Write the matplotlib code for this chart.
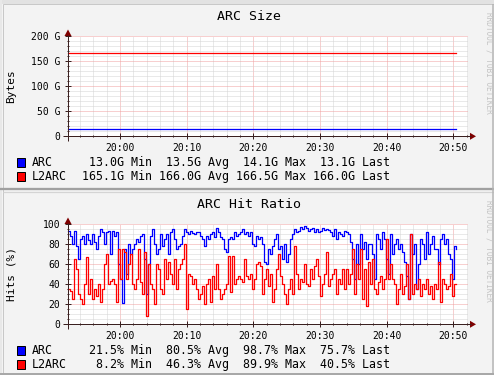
import numpy as np
import matplotlib
matplotlib.use('Agg')
import matplotlib.pyplot as plt
from matplotlib.lines import Line2D
from matplotlib.patches import Polygon, Rectangle

# time axis: minutes of the day, one sample every 18 s starting 19:52:12
t_start = 19 * 60 + 52.2
t_step = 0.3
hour_ticks = ['20:00', '20:10', '20:20', '20:30', '20:40', '20:50']

# ARC size (G)
size_times = [0, 10, 20, 30, 40, 50, 58.2]
arc_size = [13.9, 13.9, 13.9, 14.0, 13.9, 13.9, 13.9]
l2arc_size = [166.0, 166.0, 166.0, 166.1, 166.0, 166.0, 166.0]
size_legend = [['ARC', ' 13.0G Min  13.5G Avg  14.1G Max  13.1G Last'],
               ['L2ARC', '165.1G Min 166.0G Avg 166.5G Max 166.0G Last']]

# ARC hit ratio (%)
arc_hits = [
    93, 88, 80, 93, 78, 65, 85, 88, 80, 90, 84, 80, 90, 82, 75, 88, 95, 92, 80, 92, 93, 70, 93, 88, 92, 60, 45, 21.5, 75, 50, 80, 70,
    75, 80, 85, 82, 88, 90, 65, 30, 60, 88, 95, 80, 70, 75, 90, 78, 85, 90, 70, 92, 95, 85, 75, 78, 80, 88, 95, 92, 90, 93, 91, 90, 92,
    92, 88, 85, 78, 88, 85, 90, 92, 87, 96, 92, 87, 85, 75, 72, 85, 87, 85, 92, 88, 90, 92, 95, 90, 92, 88, 92, 80, 78, 88, 85, 87, 80,
    62, 60, 75, 70, 78, 85, 90, 75, 78, 65, 80, 62, 70, 85, 90, 95, 92, 93, 97, 95, 98.7, 96, 93, 95, 96, 92, 95, 92, 93, 96, 94, 95, 94,
    92, 88, 95, 85, 92, 90, 88, 93, 92, 90, 82, 65, 45, 80, 60, 90, 75, 82, 65, 80, 80, 70, 45, 90, 85, 75, 92, 85, 65, 50, 90, 70, 80,
    85, 75, 80, 72, 62, 48, 25, 90, 70, 80, 35, 60, 85, 80, 65, 92, 70, 80, 88, 75, 75, 60, 85, 90, 80, 85, 70, 65, 45, 78, 75.7,
]
l2arc_hits = [
    35, 33, 25, 65, 55, 30, 25, 20, 40, 67, 30, 45, 25, 35, 28, 40, 22, 35, 60, 70, 40, 43, 45, 40, 22, 75, 45, 75, 72, 45, 60, 70,
    40, 35, 45, 75, 42, 30, 72, 8.2, 60, 40, 35, 20, 60, 55, 35, 30, 65, 45, 62, 50, 40, 65, 35, 55, 60, 65, 80, 15, 50, 48, 40, 45, 35,
    25, 30, 38, 20, 40, 45, 22, 48, 35, 60, 35, 25, 30, 35, 40, 68, 32, 68, 40, 45, 48, 45, 42, 65, 48, 45, 50, 35, 45, 60, 62, 58, 30,
    45, 55, 38, 50, 22, 35, 55, 70, 48, 40, 30, 20, 35, 45, 30, 78, 50, 35, 45, 42, 60, 40, 38, 55, 45, 58, 65, 48, 28, 40, 50, 72, 38,
    45, 50, 55, 30, 45, 40, 55, 35, 55, 40, 50, 75, 30, 60, 45, 75, 25, 55, 18, 62, 40, 65, 35, 30, 42, 48, 35, 45, 85, 45, 60, 45, 40,
    20, 35, 50, 30, 38, 60, 25, 89.9, 30, 40, 35, 45, 28, 40, 35, 45, 30, 38, 25, 40, 35, 62, 22, 45, 40, 35, 38, 50, 28, 40, 40.5,
]
hits_legend = [['ARC', ' 21.5% Min  80.5% Avg  98.7% Max  75.7% Last'],
               ['L2ARC', '  8.2% Min  46.3% Avg  89.9% Max  40.5% Last']]

W, H = 494, 375
MONO = 'DejaVu Sans Mono'
BACK = '#F3F3F3'
AXIS = '#3A2020'
ARROW = '#7F0000'

def fx(x):
    return x / W

def fy(y):
    return 1 - y / H

fig = plt.figure(figsize=(W / 100, H / 100), dpi=100, facecolor=BACK)

def fig_line(x0, y0, x1, y1, color, lw=1.0):
    fig.add_artist(Line2D([fx(x0), fx(x1)], [fy(y0), fy(y1)], transform=fig.transFigure,
                          color=color, lw=lw * 0.72, solid_capstyle='butt'))

def panel(top, title, ylabel, ymax, ymajor, yminor, yfmt, legend, series):
    bottom = top + 136.3
    ax = fig.add_axes([fx(68), fy(bottom), 400 / W, 100 / H])
    ax.set_facecolor('white')
    ax.set_xlim(t_start, t_start + 60)
    ax.set_ylim(0, ymax)
    for s in ax.spines.values():
        s.set_visible(False)
    major = [1200 + 10 * i for i in range(len(hour_ticks))]
    ax.set_xticks(major)
    ax.set_xticklabels(hour_ticks)
    ax.set_xticks(np.arange(1194, t_start + 60, 2), minor=True)
    ax.set_yticks(np.arange(0, ymax + 1, ymajor))
    ax.set_yticklabels([yfmt(v) for v in np.arange(0, ymax + 1, ymajor)])
    ax.set_yticks(np.arange(0, ymax + 1, yminor), minor=True)
    ax.grid(which='minor', color='#D4D4D4', lw=0.72, ls=(0, (1, 1)))
    ax.grid(which='major', color='#F0A0A0', lw=0.72, ls=(0, (1, 1)))
    ax.tick_params(which='both', direction='inout', color=AXIS, width=0.72,
                   labelsize=7, labelfontfamily=MONO)
    ax.tick_params(which='major', length=4)
    ax.tick_params(which='minor', length=2)
    ax.tick_params(axis='x', pad=2.5)
    ax.tick_params(axis='y', pad=3.5)
    ax.set_axisbelow(True)

    for (x, y, color) in series:
        ax.plot(x, y, color=color, lw=0.9, drawstyle='steps-post', clip_on=False)

    # axes with arrows
    fig_line(63, bottom, 471, bottom, AXIS)
    fig_line(68, bottom + 5, 68, top + 35, AXIS)
    fig.add_artist(Polygon([[fx(470), fy(bottom - 3.5)], [fx(476), fy(bottom)], [fx(470), fy(bottom + 3.5)]],
                           closed=True, transform=fig.transFigure, color=ARROW, lw=0))
    fig.add_artist(Polygon([[fx(64.5), fy(top + 36)], [fx(68), fy(top + 29.5)], [fx(71.5), fy(top + 36)]],
                           closed=True, transform=fig.transFigure, color=ARROW, lw=0))

    fig.text(fx(249), fy(top + 16.7), title, ha='center', va='center', fontsize=9.5, family=MONO)
    fig.text(fx(11.5), fy(top + 86.3), ylabel, ha='center', va='center', rotation=90, fontsize=8, family=MONO)
    fig.text(fx(489), fy(top + 63), 'RRDTOOL / TOBI OETIKER', ha='center', va='center', rotation=270,
             fontsize=5.6, family=MONO, color='#C4C4C4')

    for i, (name, stats) in enumerate(legend):
        yy = top + 162.3 + 13.8 * i
        color = series[i][2]
        fig.add_artist(Rectangle((fx(16.5), fy(yy + 4.5)), 8.5 / W, 8.5 / H, transform=fig.transFigure,
                                 facecolor=color, edgecolor='black', lw=0.72))
        fig.text(fx(31.5), fy(yy), name, ha='left', va='center', fontsize=8.35, family=MONO)
        fig.text(fx(82.3), fy(yy), stats, ha='left', va='center', fontsize=8.35, family=MONO)
    return ax

size_x = [t_start + t for t in size_times]
panel(0, 'ARC Size', 'Bytes', 200, 50, 10, lambda v: '0' if v == 0 else '%d G' % v,
      size_legend,
      [(size_x, arc_size, '#0000FF'), (size_x, l2arc_size, '#FF0000')])

hit_x = [t_start + t_step * k for k in range(len(arc_hits))]
panel(188, 'ARC Hit Ratio', 'Hits (%)', 100, 20, 5, lambda v: '%d' % v,
      hits_legend,
      [(hit_x, arc_hits, '#0000FF'), (hit_x, l2arc_hits, '#FF0000')])

# shaded borders of the two stacked graphs
fig.add_artist(Rectangle((0, fy(3.5)), 1, 3.5 / H, transform=fig.transFigure, color='#E2E2E2', lw=0))
fig.add_artist(Rectangle((0, 0), 2.3 / W, 1, transform=fig.transFigure, color='#E8E8E8', lw=0))
fig_line(2.5, 4, 2.5, H, '#C8C8C8', 1)
fig_line(2.5, 4, W, 4, '#C8C8C8', 1)
fig_line(0, 189, W, 189, '#A0A0A0', 2.3)
fig_line(2.5, 191.5, W, 191.5, '#D4D4D4', 1.2)
fig_line(W - 1, 4, W - 1, H, '#B4B4B4', 1.5)
fig_line(0, H - 1, W, H - 1, '#A8A8A8', 2)

fig.savefig('out.png', dpi=100, facecolor=BACK)
